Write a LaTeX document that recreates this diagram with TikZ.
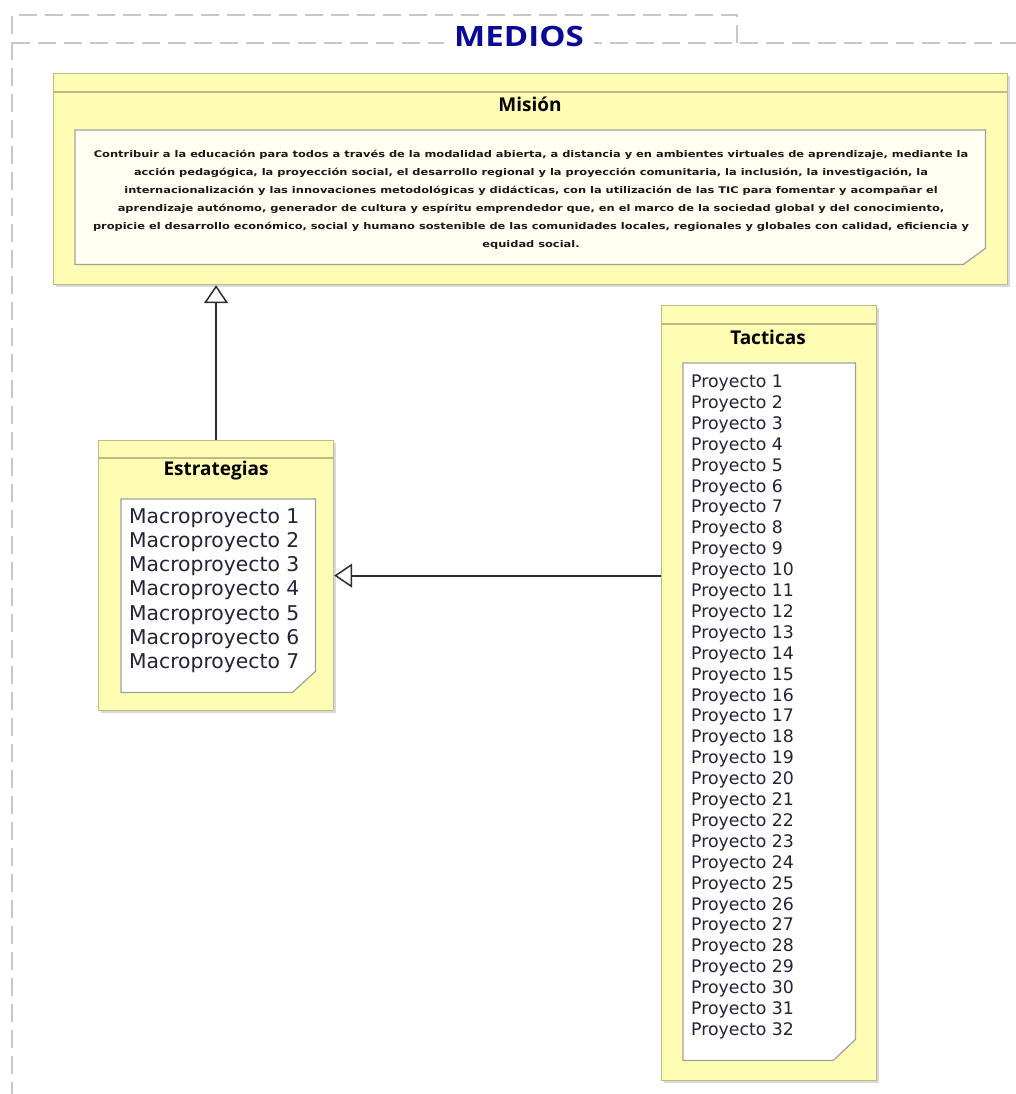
\documentclass[tikz,border=0pt]{standalone}
\usepackage{fontspec}
\usepackage{graphicx}
\setmainfont{DejaVu Sans}
\newfontfamily\titlefont{Open Sans}
\usetikzlibrary{arrows.meta,calc}

\definecolor{boxfill}{RGB}{255,252,180}
\definecolor{boxline}{RGB}{190,186,140}
\definecolor{notefill}{RGB}{255,255,242}
\definecolor{noteline}{RGB}{160,160,160}
\definecolor{framegray}{RGB}{200,200,200}
\definecolor{headblue}{RGB}{10,10,150}
\definecolor{itemtext}{RGB}{35,35,55}
\definecolor{linkline}{RGB}{45,45,45}

% mission statement font and the width of its widest line
\newlength\mislw
\newcommand{\mistextfont}{\fontsize{9.2}{17.9}\selectfont\bfseries}

\tikzset{
  frameline/.style={draw=framegray, line width=1.8pt, dash pattern=on 18pt off 8pt},
  pkgbox/.style={draw=boxline, fill=boxfill, line width=1.2pt, rectangle, inner sep=0pt, anchor=north west},
  shadowbox/.style={fill=black!15, draw=none, rectangle, inner sep=0pt, anchor=north west},
  notearea/.style={rectangle, inner sep=0pt, anchor=north west},
  notedraw/.style={draw=noteline, line width=1.2pt},
  boxtitle/.style={font=\titlefont\bfseries\fontsize{19}{21}\selectfont, text=black, inner sep=0pt},
  itemM/.style={font=\fontsize{20.3}{23}\selectfont, text=itemtext, anchor=base west, inner sep=0pt},
  itemP/.style={font=\fontsize{17.3}{20}\selectfont, text=itemtext, anchor=base west, inner sep=0pt},
  genlink/.style={draw=linkline, line width=2pt, -{Triangle[length=18pt,width=24pt,fill=white,line width=1.5pt]}},
}

\begin{document}
\settowidth\mislw{\mistextfont propicie el desarrollo económico, social y humano sostenible de las comunidades locales, regionales y globales con calidad, eficiencia y}
\pgfmathsetmacro\misxs{876/\mislw}
\begin{tikzpicture}[x=1pt,y=-1pt]
\useasboundingbox (0,0) rectangle (1016,1094);

% package frame with its tab
\draw[frameline] (12,1100) -- (12,15) -- (737,15) -- (737,43);
\draw[frameline] (12,43) -- (1022,43);
\node[anchor=base, fill=white, inner xsep=10pt, inner ysep=3pt, text=headblue,
      font=\titlefont\bfseries\fontsize{28}{30}\selectfont] (medios) at (519,47)
      {\scalebox{1.18}[1]{MEDIOS}};

% shadows
\node[shadowbox, minimum width=954pt, minimum height=211pt] at (56,76) {};
\node[shadowbox, minimum width=235pt, minimum height=270pt] at (101,443) {};
\node[shadowbox, minimum width=215pt, minimum height=775pt] at (664,308) {};

% Mision
\node[pkgbox, minimum width=954pt, minimum height=211pt] (mision) at (53,73) {};
\draw[draw=boxline, line width=1.2pt] ([yshift=-19pt]mision.north west) -- ([yshift=-19pt]mision.north east);
\node[boxtitle] (misiontitle) at (530,104) {Misión};
\node[notearea, minimum width=910pt, minimum height=134pt] (misnote) at (75,130) {};
\draw[notedraw, fill=notefill] (misnote.north west) -- (misnote.north east) -- ([yshift=16pt]misnote.south east)
  -- ([xshift=-22pt]misnote.south east) -- (misnote.south west) -- cycle;
\node[inner sep=0pt, text=black!90] (mistext) at (531,199) {\mistextfont\scalebox{\misxs}[1]{%
  \begin{tabular}{@{}c@{}}
  Contribuir a la educación para todos a través de la modalidad abierta, a distancia y en ambientes virtuales de aprendizaje, mediante la\\
  acción pedagógica, la proyección social, el desarrollo regional y la proyección comunitaria, la inclusión, la investigación, la\\
  internacionalización y las innovaciones metodológicas y didácticas, con la utilización de las TIC para fomentar y acompañar el\\
  aprendizaje autónomo, generador de cultura y espíritu emprendedor que, en el marco de la sociedad global y del conocimiento,\\
  propicie el desarrollo económico, social y humano sostenible de las comunidades locales, regionales y globales con calidad, eficiencia y\\
  equidad social.
  \end{tabular}}};

% Estrategias
\node[pkgbox, minimum width=235pt, minimum height=270pt] (estr) at (98,440) {};
\draw[draw=boxline, line width=1.2pt] ([yshift=-18pt]estr.north west) -- ([yshift=-18pt]estr.north east);
\node[boxtitle] (estrtitle) at (216,471) {Estrategias};
\node[notearea, minimum width=194pt, minimum height=193pt] (estrnote) at (121,499) {};
\draw[notedraw, fill=white] (estrnote.north west) -- (estrnote.north east) -- ([yshift=21pt]estrnote.south east)
  -- ([xshift=-23pt]estrnote.south east) -- (estrnote.south west) -- cycle;
\foreach \i in {1,...,7}{
  \node[itemM] (m\i) at (129,{523+24.33*(\i-1)}) {Macroproyecto \i};
}

% Tacticas
\node[pkgbox, minimum width=215pt, minimum height=775pt] (tact) at (661,305) {};
\draw[draw=boxline, line width=1.2pt] ([yshift=-19pt]tact.north west) -- ([yshift=-19pt]tact.north east);
\node[boxtitle] (tacttitle) at (768,337) {Tacticas};
\node[notearea, minimum width=172pt, minimum height=697pt] (tactnote) at (683,363) {};
\draw[notedraw, fill=white] (tactnote.north west) -- (tactnote.north east) -- ([yshift=21pt]tactnote.south east)
  -- ([xshift=-22pt]tactnote.south east) -- (tactnote.south west) -- cycle;
\foreach \i in {1,...,32}{
  \node[itemP] (p\i) at (691,{387.5+20.9*(\i-1)}) {Proyecto \i};
}

% generalization links
\draw[genlink] (estr.north) -- (estr.north |- mision.south);
\draw[genlink] (estr.east -| tact.west) -- (estr.east);

\end{tikzpicture}
\end{document}
